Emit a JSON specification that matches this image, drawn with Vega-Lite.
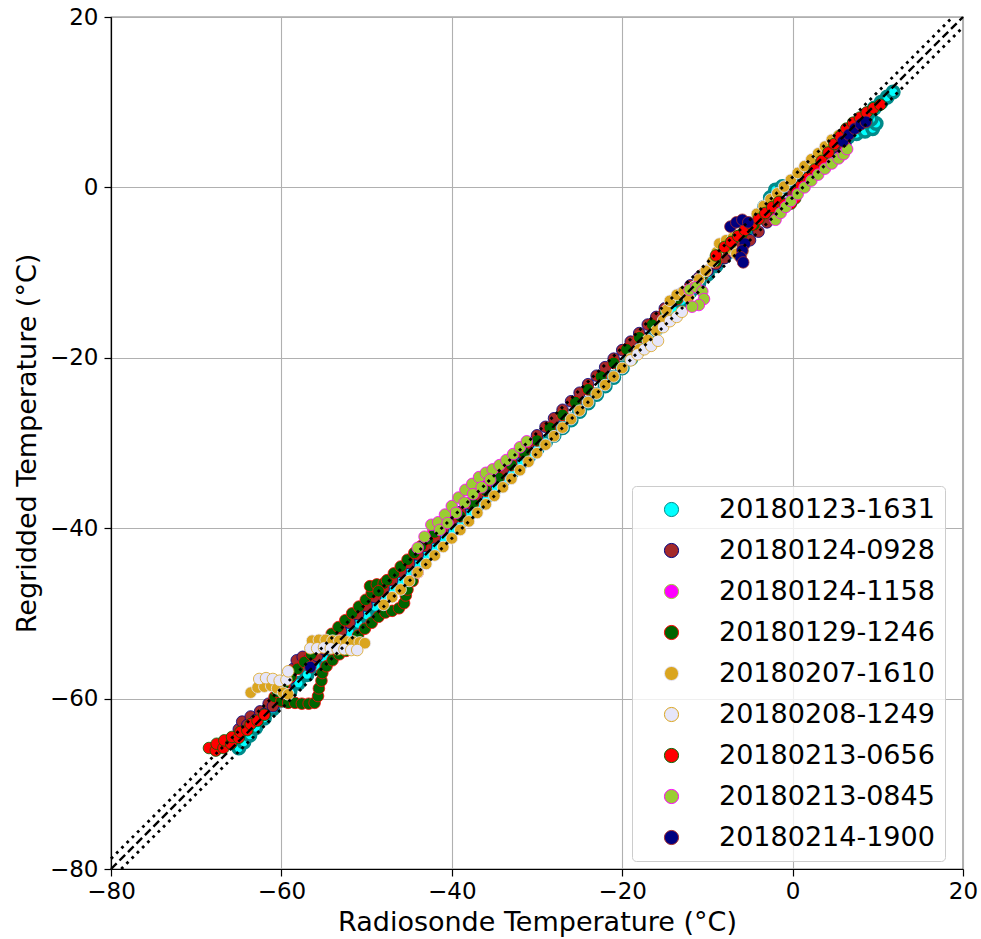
{
"$schema": "https://vega.github.io/schema/vega-lite/v6.json",
"width": 852, "height": 852,
"autosize": "none",
"padding": {"left": 111, "top": 17, "right": 18, "bottom": 70},
"background": "white",
"datasets": {
"pts": [
{"s":"20180123-1631","x":-65,"y":-65.8},{"s":"20180123-1631","x":-64.4,"y":-65.1},{"s":"20180123-1631","x":-63.7,"y":-64.3},{"s":"20180123-1631","x":-63,"y":-63.4},{"s":"20180123-1631","x":-62,"y":-62.3},{"s":"20180123-1631","x":-61,"y":-61.2},{"s":"20180123-1631","x":-60,"y":-60.2},{"s":"20180123-1631","x":-59,"y":-59.2},{"s":"20180123-1631","x":-58,"y":-58.2},{"s":"20180123-1631","x":-57,"y":-57.2},{"s":"20180123-1631","x":-56,"y":-56.2},{"s":"20180123-1631","x":-55,"y":-55.2},{"s":"20180123-1631","x":-54,"y":-54.2},{"s":"20180123-1631","x":-53,"y":-53.2},{"s":"20180123-1631","x":-52,"y":-52.2},{"s":"20180123-1631","x":-51,"y":-51.2},{"s":"20180123-1631","x":-50,"y":-50.2},{"s":"20180123-1631","x":-49,"y":-49.2},{"s":"20180123-1631","x":-48,"y":-48.2},{"s":"20180123-1631","x":-47,"y":-47.2},{"s":"20180123-1631","x":-46,"y":-46.2},{"s":"20180123-1631","x":-45,"y":-45.2},{"s":"20180123-1631","x":-44,"y":-44.2},{"s":"20180123-1631","x":-43,"y":-43.2},{"s":"20180123-1631","x":-42,"y":-42.2},{"s":"20180123-1631","x":-41,"y":-41.2},{"s":"20180123-1631","x":-40,"y":-40.2},{"s":"20180123-1631","x":-39,"y":-39.2},{"s":"20180123-1631","x":-38,"y":-38.3},{"s":"20180123-1631","x":-37,"y":-37.3},{"s":"20180123-1631","x":-36,"y":-36.3},{"s":"20180123-1631","x":-35,"y":-35.4},{"s":"20180123-1631","x":-34,"y":-34.4},{"s":"20180123-1631","x":-33,"y":-33.5},{"s":"20180123-1631","x":-32,"y":-32.5},{"s":"20180123-1631","x":-31,"y":-31.6},{"s":"20180123-1631","x":-30,"y":-30.7},{"s":"20180123-1631","x":-29,"y":-29.9},{"s":"20180123-1631","x":-28,"y":-29.1},{"s":"20180123-1631","x":-27,"y":-28.2},{"s":"20180123-1631","x":-26,"y":-27.3},{"s":"20180123-1631","x":-25,"y":-26.3},{"s":"20180123-1631","x":-24,"y":-25.3},{"s":"20180123-1631","x":-23,"y":-24.3},{"s":"20180123-1631","x":-22,"y":-23.3},{"s":"20180123-1631","x":-21,"y":-22.3},{"s":"20180123-1631","x":-20,"y":-21.2},{"s":"20180123-1631","x":-19,"y":-20.1},{"s":"20180123-1631","x":-18,"y":-19},{"s":"20180123-1631","x":-17,"y":-17.8},{"s":"20180123-1631","x":-16,"y":-16.6},{"s":"20180123-1631","x":-15,"y":-15.5},{"s":"20180123-1631","x":-14,"y":-14.4},{"s":"20180123-1631","x":-13,"y":-13.3},{"s":"20180123-1631","x":-12,"y":-12.2},{"s":"20180123-1631","x":-11,"y":-11.2},{"s":"20180123-1631","x":-10,"y":-10.2},{"s":"20180123-1631","x":-9,"y":-9.2},{"s":"20180123-1631","x":-8,"y":-8.1},{"s":"20180123-1631","x":-7,"y":-7},{"s":"20180123-1631","x":-6,"y":-5.9},{"s":"20180123-1631","x":-5,"y":-4.7},{"s":"20180123-1631","x":-4,"y":-3.4},{"s":"20180123-1631","x":-3.3,"y":-2.3},{"s":"20180123-1631","x":-2.6,"y":-1.2},{"s":"20180123-1631","x":-2,"y":-0.3},{"s":"20180123-1631","x":-1.2,"y":0.1},{"s":"20180123-1631","x":-0.4,"y":-0.2},{"s":"20180123-1631","x":0.5,"y":0.4},{"s":"20180123-1631","x":1.5,"y":1.4},{"s":"20180123-1631","x":2.5,"y":2.4},{"s":"20180123-1631","x":3.5,"y":3.4},{"s":"20180123-1631","x":4.5,"y":4.4},{"s":"20180123-1631","x":5.5,"y":5.3},{"s":"20180123-1631","x":6.5,"y":5.9},{"s":"20180123-1631","x":7.5,"y":6.3},{"s":"20180123-1631","x":8.5,"y":6.6},{"s":"20180123-1631","x":9.4,"y":6.9},{"s":"20180123-1631","x":9.8,"y":7.5},{"s":"20180123-1631","x":9.2,"y":8},{"s":"20180123-1631","x":8.6,"y":7.7},{"s":"20180123-1631","x":8.8,"y":8.6},{"s":"20180123-1631","x":9.6,"y":9.3},{"s":"20180123-1631","x":10.4,"y":10},{"s":"20180123-1631","x":11.1,"y":10.6},{"s":"20180123-1631","x":11.8,"y":11.2},
{"s":"20180124-0928","x":-65,"y":-63.6},{"s":"20180124-0928","x":-64.6,"y":-62.7},{"s":"20180124-0928","x":-64,"y":-63.1},{"s":"20180124-0928","x":-63.6,"y":-62.1},{"s":"20180124-0928","x":-63,"y":-62.5},{"s":"20180124-0928","x":-62.5,"y":-61.5},{"s":"20180124-0928","x":-62,"y":-61.8},{"s":"20180124-0928","x":-61.5,"y":-60.6},{"s":"20180124-0928","x":-61,"y":-60.9},{"s":"20180124-0928","x":-60.3,"y":-59.5},{"s":"20180124-0928","x":-59.5,"y":-58.6},{"s":"20180124-0928","x":-59,"y":-57.6},{"s":"20180124-0928","x":-58.6,"y":-56.5},{"s":"20180124-0928","x":-58.2,"y":-55.5},{"s":"20180124-0928","x":-57.5,"y":-55.1},{"s":"20180124-0928","x":-57,"y":-55.6},{"s":"20180124-0928","x":-56.4,"y":-55.7},{"s":"20180124-0928","x":-55.8,"y":-55},{"s":"20180124-0928","x":-55,"y":-54.2},{"s":"20180124-0928","x":-54,"y":-53.1},{"s":"20180124-0928","x":-53,"y":-52.1},{"s":"20180124-0928","x":-52,"y":-51.1},{"s":"20180124-0928","x":-51,"y":-50.1},{"s":"20180124-0928","x":-50,"y":-49.1},{"s":"20180124-0928","x":-49,"y":-48.1},{"s":"20180124-0928","x":-48,"y":-47.1},{"s":"20180124-0928","x":-47,"y":-46.1},{"s":"20180124-0928","x":-46,"y":-45.1},{"s":"20180124-0928","x":-45,"y":-44.1},{"s":"20180124-0928","x":-44,"y":-43.1},{"s":"20180124-0928","x":-43,"y":-42.1},{"s":"20180124-0928","x":-42,"y":-41.1},{"s":"20180124-0928","x":-41,"y":-40.1},{"s":"20180124-0928","x":-40,"y":-39.1},{"s":"20180124-0928","x":-39,"y":-38.1},{"s":"20180124-0928","x":-38,"y":-37.1},{"s":"20180124-0928","x":-37,"y":-36.1},{"s":"20180124-0928","x":-36,"y":-35.1},{"s":"20180124-0928","x":-35,"y":-34.1},{"s":"20180124-0928","x":-34,"y":-33.1},{"s":"20180124-0928","x":-33,"y":-32.1},{"s":"20180124-0928","x":-32,"y":-31.1},{"s":"20180124-0928","x":-31,"y":-30.1},{"s":"20180124-0928","x":-30,"y":-29.1},{"s":"20180124-0928","x":-29,"y":-28.1},{"s":"20180124-0928","x":-28,"y":-27.1},{"s":"20180124-0928","x":-27,"y":-26.1},{"s":"20180124-0928","x":-26,"y":-25.1},{"s":"20180124-0928","x":-25,"y":-24.1},{"s":"20180124-0928","x":-24,"y":-23.1},{"s":"20180124-0928","x":-23,"y":-22.1},{"s":"20180124-0928","x":-22,"y":-21.1},{"s":"20180124-0928","x":-21,"y":-20.1},{"s":"20180124-0928","x":-20,"y":-19.1},{"s":"20180124-0928","x":-19,"y":-18.1},{"s":"20180124-0928","x":-18,"y":-17.1},{"s":"20180124-0928","x":-17,"y":-16.1},{"s":"20180124-0928","x":-16,"y":-15.2},{"s":"20180124-0928","x":-15,"y":-14.2},{"s":"20180124-0928","x":-14,"y":-13.3},{"s":"20180124-0928","x":-13,"y":-12.4},{"s":"20180124-0928","x":-12,"y":-11.5},{"s":"20180124-0928","x":-11,"y":-10.6},{"s":"20180124-0928","x":-10,"y":-9.8},{"s":"20180124-0928","x":-9,"y":-9},{"s":"20180124-0928","x":-8,"y":-8.3},{"s":"20180124-0928","x":-7,"y":-7.6},{"s":"20180124-0928","x":-6,"y":-6.9},{"s":"20180124-0928","x":-5,"y":-6.2},{"s":"20180124-0928","x":-4,"y":-5.2},{"s":"20180124-0928","x":-3,"y":-4.1},{"s":"20180124-0928","x":-2,"y":-3},{"s":"20180124-0928","x":-1,"y":-1.9},{"s":"20180124-0928","x":0,"y":-0.8},{"s":"20180124-0928","x":1,"y":0.3},{"s":"20180124-0928","x":2,"y":1.4},{"s":"20180124-0928","x":3,"y":2.6},{"s":"20180124-0928","x":3.8,"y":3.7},{"s":"20180124-0928","x":4.4,"y":4.6},{"s":"20180124-0928","x":5,"y":5.2},{"s":"20180124-0928","x":5.8,"y":5.4},{"s":"20180124-0928","x":6.2,"y":4.9},{"s":"20180124-0928","x":5.5,"y":4.6},{"s":"20180124-0928","x":4.8,"y":4.8},
{"s":"20180124-1158","x":-42.2,"y":-40.2},{"s":"20180124-1158","x":-36,"y":-35.6},{"s":"20180124-1158","x":-27,"y":-26.7},{"s":"20180124-1158","x":-18,"y":-17.6},{"s":"20180124-1158","x":-9,"y":-8.7},{"s":"20180124-1158","x":-1.8,"y":-1.5},{"s":"20180124-1158","x":3.2,"y":2.4},
{"s":"20180129-1246","x":-60.8,"y":-59.8},{"s":"20180129-1246","x":-60,"y":-60.3},{"s":"20180129-1246","x":-59.2,"y":-60.5},{"s":"20180129-1246","x":-58.4,"y":-60.5},{"s":"20180129-1246","x":-57.6,"y":-60.6},{"s":"20180129-1246","x":-56.8,"y":-60.6},{"s":"20180129-1246","x":-56.1,"y":-60.5},{"s":"20180129-1246","x":-55.7,"y":-59.7},{"s":"20180129-1246","x":-55.6,"y":-58.8},{"s":"20180129-1246","x":-55.3,"y":-57.9},{"s":"20180129-1246","x":-55.2,"y":-57},{"s":"20180129-1246","x":-54.7,"y":-56.2},{"s":"20180129-1246","x":-54,"y":-55.5},{"s":"20180129-1246","x":-53.2,"y":-54.8},{"s":"20180129-1246","x":-52.4,"y":-54.4},{"s":"20180129-1246","x":-51.7,"y":-53.5},{"s":"20180129-1246","x":-51,"y":-52.6},{"s":"20180129-1246","x":-50.2,"y":-51.8},{"s":"20180129-1246","x":-49.4,"y":-51.1},{"s":"20180129-1246","x":-48.6,"y":-50.4},{"s":"20180129-1246","x":-47.8,"y":-49.9},{"s":"20180129-1246","x":-47,"y":-49.7},{"s":"20180129-1246","x":-46.2,"y":-49.4},{"s":"20180129-1246","x":-45.6,"y":-48.8},{"s":"20180129-1246","x":-45.4,"y":-47.9},{"s":"20180129-1246","x":-45.2,"y":-47.2},{"s":"20180129-1246","x":-44.6,"y":-46.2},{"s":"20180129-1246","x":-44,"y":-45.2},
{"s":"20180129-1246","x":-60.5,"y":-59.2},{"s":"20180129-1246","x":-59.7,"y":-58.3},{"s":"20180129-1246","x":-58.9,"y":-57.4},{"s":"20180129-1246","x":-58.1,"y":-56.5},{"s":"20180129-1246","x":-57.3,"y":-55.7},{"s":"20180129-1246","x":-56.5,"y":-54.8},{"s":"20180129-1246","x":-55.7,"y":-54},{"s":"20180129-1246","x":-54.9,"y":-53.2},{"s":"20180129-1246","x":-54.1,"y":-52.4},{"s":"20180129-1246","x":-53.3,"y":-51.6},{"s":"20180129-1246","x":-52.5,"y":-50.8},{"s":"20180129-1246","x":-51.7,"y":-50},{"s":"20180129-1246","x":-50.9,"y":-49.2},{"s":"20180129-1246","x":-50.1,"y":-48.4},{"s":"20180129-1246","x":-49.4,"y":-47.6},{"s":"20180129-1246","x":-49.6,"y":-46.8},{"s":"20180129-1246","x":-48.8,"y":-46.6},{"s":"20180129-1246","x":-48,"y":-46.5},{"s":"20180129-1246","x":-48.6,"y":-47.4},{"s":"20180129-1246","x":-47.6,"y":-46.1},{"s":"20180129-1246","x":-46.8,"y":-45.3},{"s":"20180129-1246","x":-46,"y":-44.5},{"s":"20180129-1246","x":-45.2,"y":-43.7},{"s":"20180129-1246","x":-44.4,"y":-42.9},{"s":"20180129-1246","x":-43.6,"y":-42.1},{"s":"20180129-1246","x":-42.8,"y":-41.3},{"s":"20180129-1246","x":-42,"y":-40.5},{"s":"20180129-1246","x":-41.2,"y":-39.7},{"s":"20180129-1246","x":-40.4,"y":-38.9},
{"s":"20180129-1246","x":-39,"y":-38.6},{"s":"20180129-1246","x":-37.5,"y":-37.1},{"s":"20180129-1246","x":-36,"y":-35.6},{"s":"20180129-1246","x":-34.5,"y":-34.1},{"s":"20180129-1246","x":-33,"y":-32.6},{"s":"20180129-1246","x":-31.5,"y":-31.1},{"s":"20180129-1246","x":-30,"y":-29.7},{"s":"20180129-1246","x":-28.5,"y":-28.2},{"s":"20180129-1246","x":-27,"y":-26.7},{"s":"20180129-1246","x":-25.5,"y":-25.2},{"s":"20180129-1246","x":-24,"y":-23.7},{"s":"20180129-1246","x":-22.5,"y":-22.2},{"s":"20180129-1246","x":-21,"y":-20.6},{"s":"20180129-1246","x":-19.5,"y":-19},{"s":"20180129-1246","x":-18,"y":-17.6},{"s":"20180129-1246","x":-16.5,"y":-16.1},{"s":"20180129-1246","x":-15,"y":-14.6},{"s":"20180129-1246","x":-13.5,"y":-13.1},{"s":"20180129-1246","x":-12,"y":-11.7},{"s":"20180129-1246","x":-10.5,"y":-10.2},{"s":"20180129-1246","x":-9,"y":-8.7},{"s":"20180129-1246","x":-7.5,"y":-7.2},{"s":"20180129-1246","x":-6,"y":-5.8},{"s":"20180129-1246","x":-4.5,"y":-4.4},{"s":"20180129-1246","x":-3,"y":-2.9},
{"s":"20180207-1610","x":-63.6,"y":-59.3},{"s":"20180207-1610","x":-62.8,"y":-58.7},{"s":"20180207-1610","x":-62,"y":-58.6},{"s":"20180207-1610","x":-61.2,"y":-58.5},{"s":"20180207-1610","x":-60.5,"y":-58.8},{"s":"20180207-1610","x":-59.8,"y":-59.3},{"s":"20180207-1610","x":-59.2,"y":-59.5},
{"s":"20180207-1610","x":-56.4,"y":-53.2},{"s":"20180207-1610","x":-55.6,"y":-53.1},{"s":"20180207-1610","x":-54.8,"y":-53.1},{"s":"20180207-1610","x":-54,"y":-53.2},{"s":"20180207-1610","x":-53.2,"y":-53.2},{"s":"20180207-1610","x":-52.4,"y":-53.3},{"s":"20180207-1610","x":-51.6,"y":-53.3},{"s":"20180207-1610","x":-50.8,"y":-53.4},{"s":"20180207-1610","x":-50.2,"y":-53.5},
{"s":"20180207-1610","x":-48,"y":-49},{"s":"20180207-1610","x":-47,"y":-48.1},{"s":"20180207-1610","x":-46,"y":-47.2},{"s":"20180207-1610","x":-45,"y":-46.2},{"s":"20180207-1610","x":-44,"y":-45.2},{"s":"20180207-1610","x":-43,"y":-44.2},{"s":"20180207-1610","x":-42,"y":-43.2},{"s":"20180207-1610","x":-41,"y":-42.2},{"s":"20180207-1610","x":-40,"y":-41.2},{"s":"20180207-1610","x":-39,"y":-40.2},{"s":"20180207-1610","x":-38,"y":-39.2},{"s":"20180207-1610","x":-37,"y":-38.2},{"s":"20180207-1610","x":-36,"y":-37.2},{"s":"20180207-1610","x":-35,"y":-36.2},{"s":"20180207-1610","x":-34,"y":-35.2},{"s":"20180207-1610","x":-33,"y":-34.2},{"s":"20180207-1610","x":-32,"y":-33.2},{"s":"20180207-1610","x":-31,"y":-32.2},{"s":"20180207-1610","x":-30,"y":-31.2},{"s":"20180207-1610","x":-29,"y":-30.2},{"s":"20180207-1610","x":-28,"y":-29.2},{"s":"20180207-1610","x":-27,"y":-28.2},{"s":"20180207-1610","x":-26,"y":-27.2},{"s":"20180207-1610","x":-25,"y":-26.2},{"s":"20180207-1610","x":-24,"y":-25.2},{"s":"20180207-1610","x":-23,"y":-24.2},{"s":"20180207-1610","x":-22,"y":-23.2},{"s":"20180207-1610","x":-21,"y":-22.2},{"s":"20180207-1610","x":-20,"y":-21.2},{"s":"20180207-1610","x":-19,"y":-20.1},{"s":"20180207-1610","x":-18,"y":-19},{"s":"20180207-1610","x":-17,"y":-17.9},{"s":"20180207-1610","x":-16,"y":-16.8},{"s":"20180207-1610","x":-15.2,"y":-15.6},{"s":"20180207-1610","x":-14.8,"y":-14.4},{"s":"20180207-1610","x":-14.4,"y":-13.3},{"s":"20180207-1610","x":-13.6,"y":-12.6},{"s":"20180207-1610","x":-12.8,"y":-12.2},{"s":"20180207-1610","x":-12.2,"y":-12.9},{"s":"20180207-1610","x":-11.6,"y":-11.7},{"s":"20180207-1610","x":-11,"y":-10.8},{"s":"20180207-1610","x":-10.2,"y":-9.8},{"s":"20180207-1610","x":-9.4,"y":-8.7},{"s":"20180207-1610","x":-8.9,"y":-7.6},{"s":"20180207-1610","x":-8.6,"y":-6.6},{"s":"20180207-1610","x":-7.8,"y":-6.2},{"s":"20180207-1610","x":-7,"y":-5.9},{"s":"20180207-1610","x":-6.4,"y":-5.6},{"s":"20180207-1610","x":-7.2,"y":-7.2},{"s":"20180207-1610","x":-6.6,"y":-7.8},{"s":"20180207-1610","x":-5.8,"y":-7.5},{"s":"20180207-1610","x":-5,"y":-4.1},{"s":"20180207-1610","x":-4.2,"y":-3.1},{"s":"20180207-1610","x":-3.4,"y":-2.2},{"s":"20180207-1610","x":-2.6,"y":-1.4},{"s":"20180207-1610","x":-1.8,"y":-0.7},{"s":"20180207-1610","x":-1,"y":0.1},{"s":"20180207-1610","x":-0.2,"y":0.9},{"s":"20180207-1610","x":0.6,"y":1.7},{"s":"20180207-1610","x":1.4,"y":2.5},{"s":"20180207-1610","x":2.2,"y":3.3},{"s":"20180207-1610","x":3,"y":4},{"s":"20180207-1610","x":3.8,"y":4.8},{"s":"20180207-1610","x":4.6,"y":5.6},{"s":"20180207-1610","x":5.4,"y":6.1},
{"s":"20180208-1249","x":-62.6,"y":-57.7},{"s":"20180208-1249","x":-61.8,"y":-57.6},{"s":"20180208-1249","x":-61,"y":-57.7},{"s":"20180208-1249","x":-60.2,"y":-57.9},{"s":"20180208-1249","x":-59.4,"y":-57.8},{"s":"20180208-1249","x":-59.2,"y":-56.8},{"s":"20180208-1249","x":-56.6,"y":-54.1},{"s":"20180208-1249","x":-55.8,"y":-54.1},{"s":"20180208-1249","x":-55,"y":-54},{"s":"20180208-1249","x":-54.2,"y":-54.1},{"s":"20180208-1249","x":-53.4,"y":-54.2},{"s":"20180208-1249","x":-52.6,"y":-54.2},{"s":"20180208-1249","x":-51.8,"y":-54.3},{"s":"20180208-1249","x":-51.1,"y":-54.3},{"s":"20180208-1249","x":-19,"y":-20.3},{"s":"20180208-1249","x":-18.2,"y":-19.6},{"s":"20180208-1249","x":-17.4,"y":-19},{"s":"20180208-1249","x":-16.6,"y":-18.6},{"s":"20180208-1249","x":-15.8,"y":-18},{"s":"20180208-1249","x":-15.2,"y":-16.4},{"s":"20180208-1249","x":-14.4,"y":-15.7},{"s":"20180208-1249","x":-13.6,"y":-15.2},{"s":"20180208-1249","x":-13,"y":-14.6},
{"s":"20180213-0656","x":-68.5,"y":-65.8},{"s":"20180213-0656","x":-67.7,"y":-66.1},{"s":"20180213-0656","x":-67.6,"y":-65.3},{"s":"20180213-0656","x":-66.8,"y":-65.8},{"s":"20180213-0656","x":-66.7,"y":-64.9},{"s":"20180213-0656","x":-65.9,"y":-65.3},{"s":"20180213-0656","x":-65.8,"y":-64.5},{"s":"20180213-0656","x":-65,"y":-64.6},{"s":"20180213-0656","x":-64.8,"y":-63.9},{"s":"20180213-0656","x":-64,"y":-63.7},{"s":"20180213-0656","x":-63.6,"y":-63},{"s":"20180213-0656","x":-62.8,"y":-62.6},{"s":"20180213-0656","x":-62,"y":-61.9},{"s":"20180213-0656","x":-9,"y":-8},{"s":"20180213-0656","x":-8,"y":-7},{"s":"20180213-0656","x":-7.2,"y":-6.4},{"s":"20180213-0656","x":-6.4,"y":-5.7},{"s":"20180213-0656","x":-5.6,"y":-5},{"s":"20180213-0656","x":-4.8,"y":-4.4},{"s":"20180213-0656","x":-4,"y":-3.7},{"s":"20180213-0656","x":-3.2,"y":-3},{"s":"20180213-0656","x":-2.4,"y":-2.3},{"s":"20180213-0656","x":-1.6,"y":-1.7},{"s":"20180213-0656","x":-0.9,"y":-2},{"s":"20180213-0656","x":-0.2,"y":-1.9},{"s":"20180213-0656","x":0.3,"y":-1.3},{"s":"20180213-0656","x":0.5,"y":-0.5},{"s":"20180213-0656","x":1,"y":0.2},{"s":"20180213-0656","x":1.8,"y":1.1},{"s":"20180213-0656","x":2.6,"y":2.1},{"s":"20180213-0656","x":3.4,"y":3.1},{"s":"20180213-0656","x":4.2,"y":4.1},{"s":"20180213-0656","x":4.9,"y":5.1},{"s":"20180213-0656","x":5.6,"y":6},{"s":"20180213-0656","x":6.3,"y":6.9},{"s":"20180213-0656","x":7.1,"y":7.6},{"s":"20180213-0656","x":7.9,"y":8.2},{"s":"20180213-0656","x":8.7,"y":8.8},{"s":"20180213-0656","x":9.5,"y":9.3},{"s":"20180213-0656","x":10.3,"y":9.7},
{"s":"20180213-0845","x":-44,"y":-42.3},{"s":"20180213-0845","x":-43.2,"y":-41},{"s":"20180213-0845","x":-42.4,"y":-39.6},{"s":"20180213-0845","x":-41.6,"y":-39.3},{"s":"20180213-0845","x":-41.4,"y":-40.2},{"s":"20180213-0845","x":-40.8,"y":-38.4},{"s":"20180213-0845","x":-40,"y":-37.4},{"s":"20180213-0845","x":-39.2,"y":-36.4},{"s":"20180213-0845","x":-38.4,"y":-35.5},{"s":"20180213-0845","x":-37.6,"y":-34.8},{"s":"20180213-0845","x":-36.8,"y":-34},{"s":"20180213-0845","x":-36,"y":-33.5},{"s":"20180213-0845","x":-35.2,"y":-33.1},{"s":"20180213-0845","x":-34.4,"y":-32.6},{"s":"20180213-0845","x":-33.6,"y":-32},{"s":"20180213-0845","x":-32.8,"y":-31.3},{"s":"20180213-0845","x":-32,"y":-30.5},{"s":"20180213-0845","x":-31.2,"y":-29.8},{"s":"20180213-0845","x":-40.5,"y":-39.4},{"s":"20180213-0845","x":-39.5,"y":-38.2},{"s":"20180213-0845","x":-38.5,"y":-37},{"s":"20180213-0845","x":-37.5,"y":-36},{"s":"20180213-0845","x":-36.5,"y":-35.2},{"s":"20180213-0845","x":-35.5,"y":-34.3},{"s":"20180213-0845","x":-12.1,"y":-12},{"s":"20180213-0845","x":-11.3,"y":-11.7},{"s":"20180213-0845","x":-10.6,"y":-12.2},{"s":"20180213-0845","x":-10.4,"y":-13.1},{"s":"20180213-0845","x":-11,"y":-13.8},{"s":"20180213-0845","x":-11.8,"y":-14},{"s":"20180213-0845","x":-2,"y":-3.8},{"s":"20180213-0845","x":-1.4,"y":-3},{"s":"20180213-0845","x":-0.8,"y":-2.3},{"s":"20180213-0845","x":-0.2,"y":-1.6},{"s":"20180213-0845","x":0.6,"y":-0.8},{"s":"20180213-0845","x":1.4,"y":0},{"s":"20180213-0845","x":2.2,"y":0.8},{"s":"20180213-0845","x":3,"y":1.5},{"s":"20180213-0845","x":3.8,"y":2.2},{"s":"20180213-0845","x":4.6,"y":2.8},{"s":"20180213-0845","x":5.4,"y":3.4},{"s":"20180213-0845","x":6,"y":3.9},{"s":"20180213-0845","x":6.4,"y":4.5},
{"s":"20180214-1900","x":-56.6,"y":-56.3},{"s":"20180214-1900","x":-7.3,"y":-4.6},{"s":"20180214-1900","x":-6.6,"y":-4.1},{"s":"20180214-1900","x":-5.9,"y":-3.8},{"s":"20180214-1900","x":-5.2,"y":-4.1},{"s":"20180214-1900","x":-5.6,"y":-6.6},{"s":"20180214-1900","x":-5.9,"y":-7.4},{"s":"20180214-1900","x":-6.1,"y":-8.2},{"s":"20180214-1900","x":-5.8,"y":-8.8},{"s":"20180214-1900","x":5.9,"y":5.4},{"s":"20180214-1900","x":6.6,"y":6.2},{"s":"20180214-1900","x":7.3,"y":6.9},{"s":"20180214-1900","x":8,"y":7.4},{"s":"20180214-1900","x":8.6,"y":7.7}
]
},
"config": {
  "view": {"stroke": "black", "strokeWidth": 1.2},
  "axis": {
    "labelFont": "DejaVu Sans", "labelFontSize": 23, "labelColor": "black", "labelFlush": false,
    "titleFont": "DejaVu Sans", "titleFontSize": 27, "titleFontWeight": "normal", "titleColor": "black",
    "domainColor": "black", "domainWidth": 1.2, "tickColor": "black", "tickSize": 7, "tickWidth": 1.2,
    "gridColor": "#b0b0b0", "gridWidth": 1.1, "gridOpacity": 1
  },
  "legend": {
    "labelFont": "DejaVu Sans", "labelFontSize": 27, "labelColor": "black", "labelLimit": 500
  }
},
"layer": [
  {
    "data": {"name": "pts"},
    "mark": {"type": "point", "filled": true, "size": 135, "opacity": 1},
    "encoding": {
      "x": {"field": "x", "type": "quantitative", "scale": {"domain": [-80, 20], "nice": false, "zero": false},
            "axis": {"values": [-80, -60, -40, -20, 0, 20], "title": "Radiosonde Temperature (°C)", "labelPadding": 4, "titlePadding": 6}},
      "y": {"field": "y", "type": "quantitative", "scale": {"domain": [-80, 20], "nice": false, "zero": false},
            "axis": {"values": [-80, -60, -40, -20, 0, 20], "title": "Regridded Temperature (°C)", "labelPadding": 6, "titlePadding": 8}},
      "fill": {"field": "s", "type": "nominal",
        "scale": {"domain": ["20180123-1631","20180124-0928","20180124-1158","20180129-1246","20180207-1610","20180208-1249","20180213-0656","20180213-0845","20180214-1900"],
                  "range": ["#00ffff","#a52a2a","#ff00ff","#006400","#daa520","#e6e6fa","#ff0000","#9acd32","#000080"]},
        "legend": {"title": null, "orient": "none", "legendX": 521, "legendY": 469, "padding": 10, "rowPadding": 13, "symbolOffset": 16, "labelOffset": 34, "symbolSize": 200, "symbolStrokeWidth": 1, "symbolType": "circle", "symbolOpacity": 1, "strokeColor": "#cccccc", "fillColor": "rgba(255,255,255,0.8)", "cornerRadius": 4, "labelLimit": 500}},
      "stroke": {"field": "s", "type": "nominal",
        "scale": {"domain": ["20180123-1631","20180124-0928","20180124-1158","20180129-1246","20180207-1610","20180208-1249","20180213-0656","20180213-0845","20180214-1900"],
                  "range": ["#008b8b","#000080","#9acd32","#ff0000","#e6e6fa","#daa520","#006400","#ff00ff","#a52a2a"]},
        "legend": {"title": null, "orient": "none", "legendX": 521, "legendY": 469, "padding": 10, "rowPadding": 13, "symbolOffset": 16, "labelOffset": 34, "symbolSize": 200, "symbolStrokeWidth": 1, "symbolType": "circle", "symbolOpacity": 1, "strokeColor": "#cccccc", "fillColor": "rgba(255,255,255,0.8)", "cornerRadius": 4, "labelLimit": 500}},
      "strokeWidth": {"condition": {"test": "datum.s === '20180123-1631'", "value": 3.5}, "value": 0.8}
    }
  },
  {
    "data": {"values": [{"x": -80, "y": -80}, {"x": 20, "y": 20}]},
    "mark": {"type": "line", "color": "black", "strokeWidth": 2.4, "strokeDash": [8, 4]},
    "encoding": {"x": {"field": "x", "type": "quantitative"}, "y": {"field": "y", "type": "quantitative"}}
  },
  {
    "data": {"values": [{"x": -80, "y": -78.8, "k": "u"}, {"x": 18.8, "y": 20, "k": "u"}, {"x": -78.8, "y": -80, "k": "l"}, {"x": 20, "y": 18.8, "k": "l"}]},
    "mark": {"type": "line", "color": "black", "strokeWidth": 2.8, "strokeDash": [2.8, 4.6]},
    "encoding": {"x": {"field": "x", "type": "quantitative"}, "y": {"field": "y", "type": "quantitative"}, "detail": {"field": "k", "type": "nominal"}}
  }
]
}
